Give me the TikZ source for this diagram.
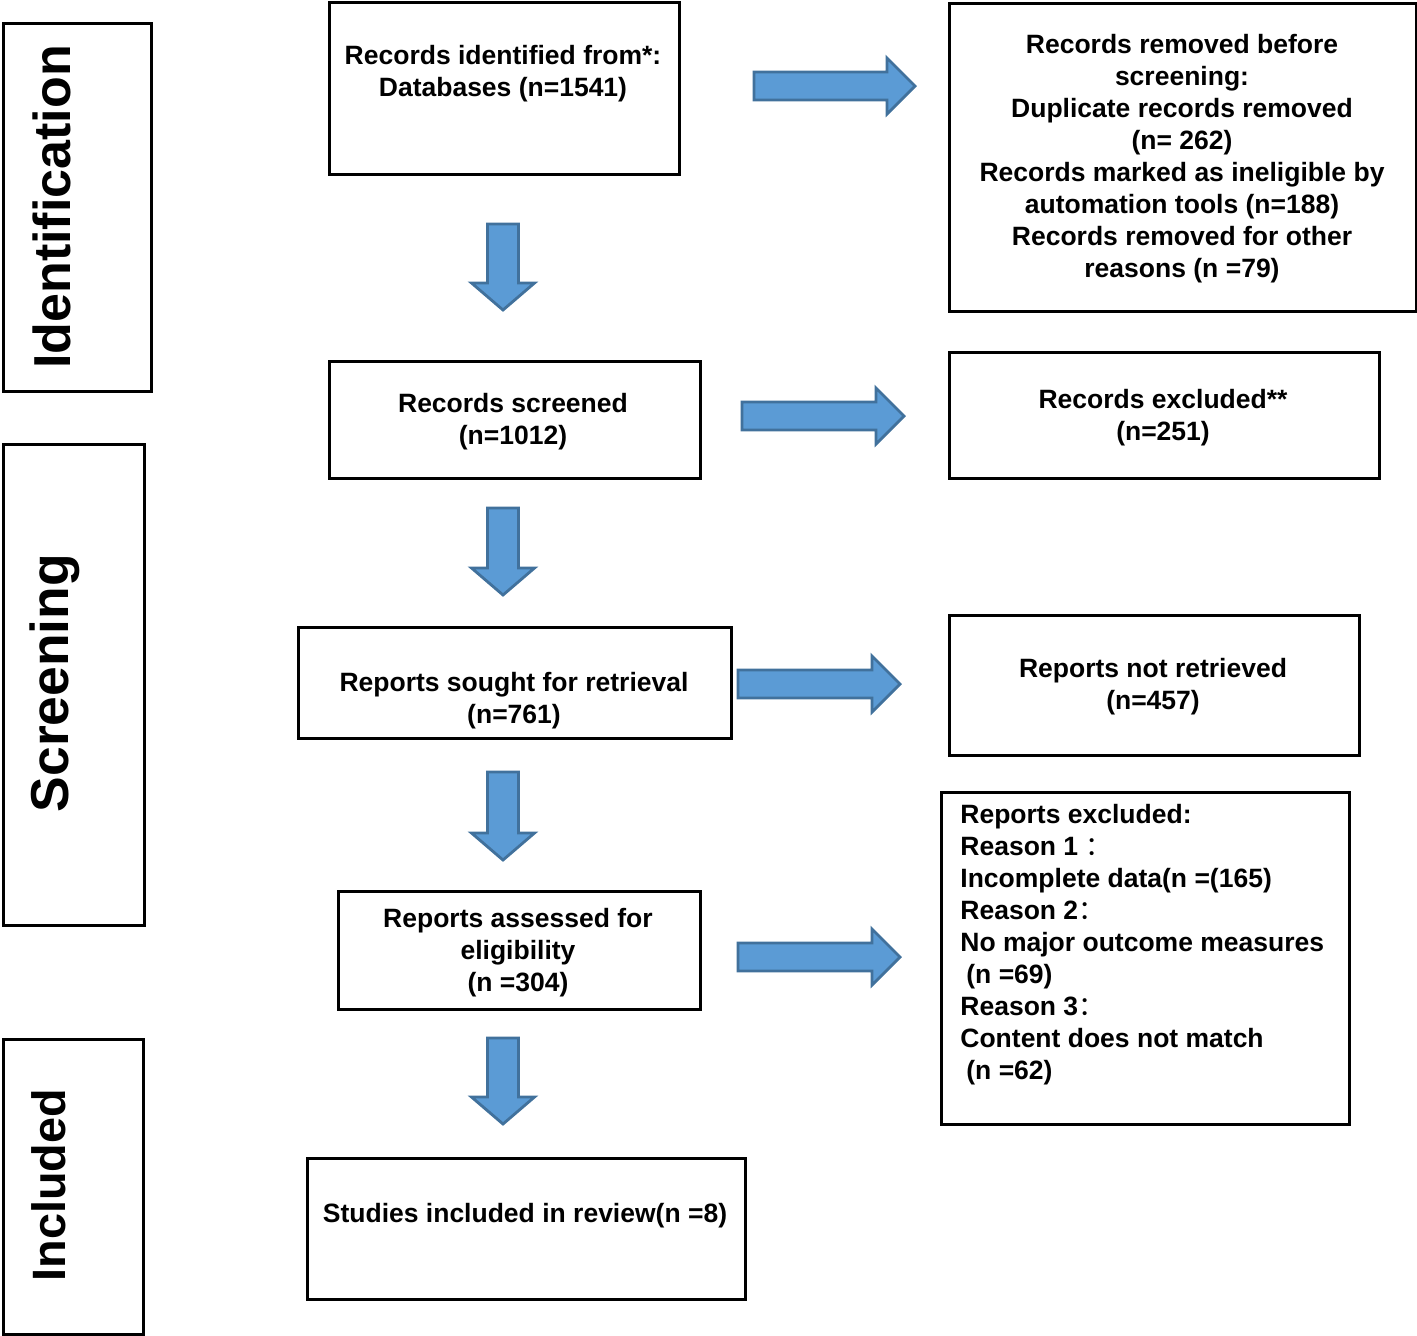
\documentclass[tikz,border=0pt]{standalone}
\usepackage{fontspec}
\setmainfont{Liberation Sans}
\newfontfamily\cjk{Noto Sans CJK SC}
\definecolor{arrfill}{RGB}{91,155,213}
\definecolor{arrdraw}{RGB}{65,113,156}
\tikzset{
  every node/.style={font=\bfseries\fontsize{13.25}{16}\selectfont},
  box/.style={draw=black, line width=1.25pt, inner sep=0pt, anchor=north west},
  txt/.style={align=center, inner sep=0pt},
  side/.style={rotate=90, inner sep=0pt, font=\bfseries\fontsize{26}{30}\selectfont},
  blk/.style={fill=arrfill, draw=arrdraw, line width=1.4pt, line join=miter},
}
\newcommand{\fwc}{{\cjk\mdseries ：}}
\newcommand{\downblk}[3]{% x, ytop, ytip
  \path[blk] (#1-15.5,#2) -- (#1+15.5,#2) -- (#1+15.5,#3-27) -- (#1+31.5,#3-27) -- (#1,#3) -- (#1-31.5,#3-27) -- (#1-15.5,#3-27) -- cycle;}
\newcommand{\rightblk}[3]{% y, xstart, xtip
  \path[blk] (#2,#1-14) -- (#3-28,#1-14) -- (#3-28,#1-28) -- (#3,#1) -- (#3-28,#1+28) -- (#3-28,#1+14) -- (#2,#1+14) -- cycle;}
\begin{document}
\begin{tikzpicture}[x=0.5pt,y=-0.5pt]
\useasboundingbox (0,0) rectangle (1417,1335);
% side labels
\node[box, minimum width=74pt, minimum height=184pt] (L1) at (2,22) {};
\node[side] (L1t) at (52,207) {Identification};
\node[box, minimum width=70.5pt, minimum height=240.5pt] (L2) at (2,443) {};
\node[side, font=\bfseries\fontsize{26.7}{30}\selectfont] (L2t) at (55,683) {Screening};
\node[box, minimum width=70pt, minimum height=147.5pt] (L3) at (2,1038) {};
\node[side, font=\bfseries\fontsize{23.4}{28}\selectfont] (L3t) at (49,1185) {Included};
% main column
\node[box, minimum width=175pt, minimum height=86pt] (A) at (328,1) {};
\node[txt] (At) at (503,74) {Records identified from*:\\Databases (n=1541)};
\node[box, minimum width=185.5pt, minimum height=58.5pt] (B) at (328,360) {};
\node[txt] (Bt) at (513,422) {Records screened\\(n=1012)};
\node[box, minimum width=216.5pt, minimum height=55.5pt] (C) at (297,626) {};
\node[txt] (Ct) at (514,701) {Reports sought for retrieval\\(n=761)};
\node[box, minimum width=181pt, minimum height=59pt] (D) at (337,890) {};
\node[txt] (Dt) at (518,953) {Reports assessed for\\eligibility\\(n =304)};
\node[box, minimum width=219pt, minimum height=70.5pt] (E) at (306,1157) {};
\node[txt] (Et) at (525,1216) {Studies included in review(n =8)};
% right column
\node[box, minimum width=233.5pt, minimum height=154pt] (R1) at (948,2) {};
\node[txt] (R1t) at (1182,159) {Records removed before\\screening:\\Duplicate records removed\\(n= 262)\\Records marked as ineligible by\\automation tools (n=188)\\Records removed for other\\reasons (n =79)};
\node[box, minimum width=215pt, minimum height=63pt] (R2) at (948,351) {};
\node[txt] (R2t) at (1163,418) {Records excluded**\\(n=251)};
\node[box, minimum width=205pt, minimum height=70pt] (R3) at (948,614) {};
\node[txt] (R3t) at (1153,687) {Reports not retrieved\\(n=457)};
\node[box, minimum width=204pt, minimum height=166pt] (R4) at (940,791) {};
\node[anchor=north west, align=left, inner sep=0pt] (R4t) at (960,804) {Reports excluded:\\Reason 1 \fwc\\Incomplete data(n =(165)\\Reason 2\fwc\\No major outcome measures\\\hspace*{3pt}(n =69)\\Reason 3\fwc\\Content does not match\\\hspace*{3pt}(n =62)};
% block arrows
\downblk{503}{224}{310}
\downblk{503}{508}{595}
\downblk{503}{772}{860}
\downblk{503}{1038}{1124}
\rightblk{86}{754}{915}
\rightblk{416}{742}{904}
\rightblk{684}{738}{900}
\rightblk{957}{738}{900}
\end{tikzpicture}
\end{document}
